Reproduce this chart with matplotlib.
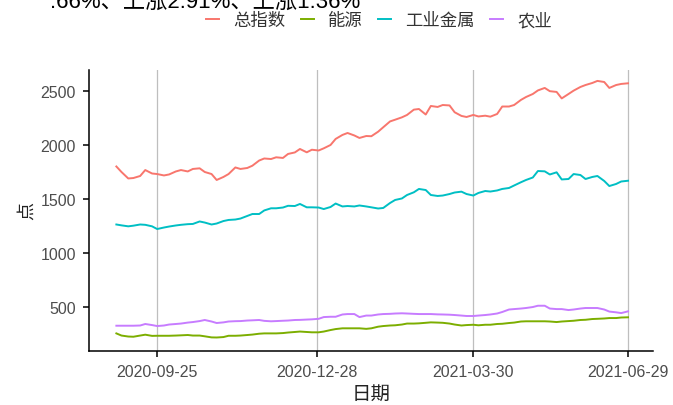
import numpy as np
import pandas as pd
import matplotlib
matplotlib.use("Agg")
import matplotlib.pyplot as plt
import matplotlib.dates as mdates

# sampling dates: every Tuesday and Friday
tue = pd.date_range('2020-09-01', '2021-06-29', freq='W-TUE')
fri = pd.date_range('2020-09-01', '2021-06-29', freq='W-FRI')
dates = tue.union(fri)

# values (points)
total = [1801, 1750, 1690, 1694, 1713, 1768, 1736, 1731, 1718, 1727,
         1755, 1768, 1755, 1778, 1784, 1750, 1731, 1676, 1704, 1731,
         1792, 1778, 1787, 1808, 1856, 1875, 1870, 1886, 1880, 1917,
         1931, 1963, 1932, 1956, 1949, 1969, 2000, 2056, 2093, 2111,
         2088, 2065, 2083, 2081, 2123, 2164, 2218, 2234, 2256, 2278,
         2327, 2333, 2282, 2361, 2352, 2370, 2366, 2303, 2269, 2259,
         2278, 2264, 2271, 2262, 2287, 2356, 2356, 2370, 2417, 2444,
         2472, 2505, 2528, 2498, 2491, 2431, 2472, 2503, 2537, 2555,
         2574, 2593, 2583, 2528, 2555, 2565, 2571]
energy = [256, 236, 227, 225, 236, 244, 233, 234, 234, 234,
          236, 238, 241, 236, 236, 229, 219, 218, 222, 234,
          234, 236, 241, 245, 253, 256, 256, 256, 259, 264,
          269, 273, 269, 266, 266, 273, 287, 296, 303, 303,
          303, 303, 298, 303, 318, 324, 329, 331, 338, 347,
          347, 349, 354, 358, 356, 354, 347, 338, 329, 333,
          336, 331, 336, 336, 343, 345, 352, 356, 366, 368,
          368, 368, 368, 366, 361, 366, 370, 373, 380, 382,
          389, 391, 394, 398, 398, 403, 405]
metals = [1264, 1256, 1247, 1253, 1264, 1261, 1247, 1222, 1236, 1245,
          1255, 1261, 1267, 1269, 1292, 1282, 1264, 1273, 1296, 1306,
          1310, 1319, 1343, 1361, 1361, 1394, 1414, 1414, 1421, 1437,
          1435, 1454, 1423, 1423, 1421, 1407, 1426, 1458, 1431, 1435,
          1431, 1440, 1431, 1423, 1412, 1417, 1463, 1491, 1505, 1537,
          1562, 1593, 1583, 1537, 1528, 1532, 1546, 1560, 1568, 1546,
          1532, 1556, 1574, 1569, 1579, 1593, 1602, 1625, 1655, 1676,
          1699, 1759, 1756, 1727, 1747, 1681, 1685, 1731, 1722, 1685,
          1704, 1713, 1667, 1620, 1639, 1662, 1669]
agri = [327, 327, 327, 327, 329, 343, 333, 324, 329, 338,
        343, 347, 356, 361, 370, 380, 366, 352, 358, 366,
        369, 370, 375, 377, 380, 372, 368, 370, 373, 375,
        380, 381, 384, 386, 391, 407, 410, 410, 431, 435,
        435, 407, 421, 421, 431, 435, 437, 440, 442, 440,
        437, 435, 435, 435, 432, 431, 429, 426, 421, 417,
        417, 421, 426, 431, 440, 454, 477, 481, 486, 491,
        500, 512, 512, 486, 481, 481, 472, 477, 486, 491,
        491, 491, 477, 458, 451, 444, 460]

names = ['总指数', '能源', '工业金属', '农业']
colors = ['#F8766D', '#7CAE00', '#00BFC4', '#C77CFF']
tick_dates = ['2020-09-25', '2020-12-28', '2021-03-30', '2021-06-29']

cjk = ['Noto Sans CJK SC', 'DejaVu Sans']
latin = ['Liberation Sans', 'Noto Sans CJK SC']

fig = plt.figure(figsize=(6.73, 4.06), dpi=100)
ax = fig.add_axes([89/673, 54/406, 564/673, 281/406])

lines = []
for vals, name, c in zip([total, energy, metals, agri], names, colors):
    ln, = ax.plot(dates, vals, color=c, lw=1.4, label=name)
    lines.append(ln)

start = pd.Timestamp('2020-09-01')
ax.set_xlim(start - pd.Timedelta(days=16.1), start + pd.Timedelta(days=315.7))
ax.set_ylim(93, 2694)

ax.set_xticks(pd.to_datetime(tick_dates))
ax.xaxis.set_major_formatter(mdates.DateFormatter('%Y-%m-%d'))
ax.set_yticks([500, 1000, 1500, 2000, 2500])
ax.grid(axis='x', color='#BEBEBE', lw=0.9)
ax.set_axisbelow(True)

for s in ['top', 'right']:
    ax.spines[s].set_visible(False)
for s in ['left', 'bottom']:
    ax.spines[s].set_linewidth(1.1)
    ax.spines[s].set_color('black')
ax.tick_params(length=4.5, width=1.1, color='black', labelcolor='#4D4D4D',
               labelsize=11.5, pad=5)
for lab in ax.get_xticklabels() + ax.get_yticklabels():
    lab.set_family(latin)

ax.set_xlabel('日期', family=cjk, fontsize=14, color='#222222', labelpad=2.5)
ax.set_ylabel('点', family=cjk, fontsize=13, color='#222222', labelpad=3)

fig.legend(lines, names, loc='center', bbox_to_anchor=(379/673, 1 - 21/406),
           ncol=4, frameon=False, handlelength=0.75, handletextpad=0.8,
           columnspacing=0.9, prop={'family': cjk, 'size': 12.5},
           labelcolor='#333333')

fig.text(50/673, 1 - 8/406, '.66%、上涨2.91%、上涨1.36%', fontsize=16,
         family=latin, ha='left', va='baseline', color='black')

fig.savefig('out.png', dpi=100)
